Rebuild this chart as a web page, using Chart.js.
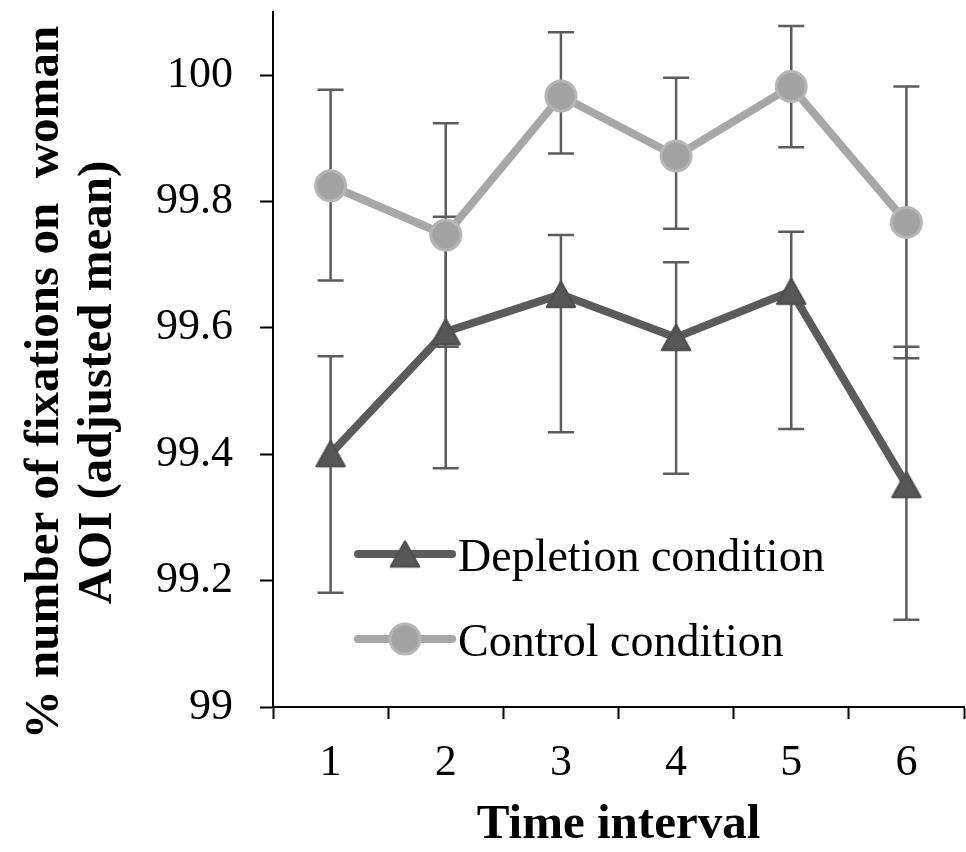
<!DOCTYPE html>
<html><head><meta charset="utf-8">
<script src="https://cdn.jsdelivr.net/npm/chart.js@4.4.0/dist/chart.umd.min.js"></script>
<style>html,body{margin:0;padding:0;background:#fff;}canvas{display:block;}</style>
</head><body>
<canvas id="c" width="966" height="852"></canvas>
<script>
const categories = ['1', '2', '3', '4', '5', '6'];
const depletionMean  = [99.401, 99.594, 99.653, 99.585, 99.658, 99.352];
const depletionUpper = [99.555, 99.776, 99.747, 99.704, 99.752, 99.570];
const depletionLower = [99.181, 99.378, 99.435, 99.369, 99.440, 99.138];
const controlMean  = [99.825, 99.747, 99.967, 99.872, 99.982, 99.767];
const controlUpper = [99.977, 99.924, 100.068, 99.996, 100.078, 99.982];
const controlLower = [99.675, 99.570, 99.876, 99.757, 99.886, 99.552];
const yTickValues = [99, 99.2, 99.4, 99.6, 99.8, 100];
const yTickLabels = ['99', '99.2', '99.4', '99.6', '99.8', '100'];
const seriesNames = ['Depletion condition', 'Control condition'];
const xTitle = 'Time interval';
const yTitle = ['% number of fixations on  woman', 'AOI (adjusted mean)'];

const SERIF = "'Liberation Serif', 'Times New Roman', serif";
const DEP_LINE = '#5b5b5b', DEP_MARK = '#575757';
const CON_LINE = '#a7a7a7', CON_FILL = '#a2a2a2', CON_BORDER = '#b6b6b6';
const ERR = '#5c5c5c';

function makeTriangle() {
  const c = document.createElement('canvas');
  c.width = 34; c.height = 33;
  const g = c.getContext('2d');
  g.beginPath();
  g.moveTo(17, 4); g.lineTo(31, 29); g.lineTo(3, 29); g.closePath();
  g.fillStyle = DEP_MARK; g.fill();
  g.lineJoin = 'round'; g.lineWidth = 2.5; g.strokeStyle = '#4f4f4f'; g.stroke();
  return c;
}
const tri = makeTriangle();

const errorSets = [
  {upper: depletionUpper, lower: depletionLower},
  {upper: controlUpper, lower: controlLower}
];

const errorBarPlugin = {
  id: 'errorBars',
  beforeDatasetsDraw(chart) {
    const {ctx, scales: {x, y}} = chart;
    ctx.save();
    ctx.strokeStyle = ERR; ctx.lineWidth = 2.5;
    errorSets.forEach(({upper, lower}) => {
      categories.forEach((c, i) => {
        const px = x.getPixelForValue(i);
        const yt = y.getPixelForValue(upper[i]);
        const yb = y.getPixelForValue(lower[i]);
        ctx.beginPath();
        ctx.moveTo(px, yt); ctx.lineTo(px, yb);
        ctx.moveTo(px - 13, yt); ctx.lineTo(px + 13, yt);
        ctx.moveTo(px - 13, yb); ctx.lineTo(px + 13, yb);
        ctx.stroke();
      });
    });
    ctx.restore();
  }
};

const yTitlePlugin = {
  id: 'yTitle',
  afterDraw(chart) {
    const {ctx, chartArea} = chart;
    const cy = (chartArea.top + chartArea.bottom) / 2 + 23;
    const xs = [45, 98];
    ctx.save();
    ctx.fillStyle = '#000';
    ctx.font = 'bold 49px ' + SERIF;
    ctx.textAlign = 'center';
    ctx.textBaseline = 'middle';
    yTitle.forEach((t, i) => {
      ctx.save();
      ctx.translate(xs[i], cy);
      ctx.rotate(-Math.PI / 2);
      ctx.fillText(t, 0, 0);
      ctx.restore();
    });
    ctx.restore();
  }
};

const legendPlugin = {
  id: 'innerLegend',
  afterDatasetsDraw(chart) {
    const {ctx, chartArea} = chart;
    const x0 = chartArea.left + 85, x1 = chartArea.left + 179, xm = (x0 + x1) / 2;
    const rows = [chartArea.top + 542, chartArea.top + 627];
    ctx.save();
    chart.data.datasets.forEach((ds, i) => {
      const yy = rows[i];
      ctx.beginPath();
      ctx.lineCap = 'round';
      ctx.lineWidth = 8;
      ctx.strokeStyle = ds.borderColor;
      ctx.moveTo(x0, yy); ctx.lineTo(x1, yy); ctx.stroke();
      if (i === 0) {
        ctx.drawImage(tri, xm - tri.width / 2, yy - tri.height / 2);
      } else {
        ctx.beginPath();
        ctx.arc(xm, yy, 15, 0, Math.PI * 2);
        ctx.fillStyle = CON_FILL; ctx.fill();
        ctx.lineWidth = 3; ctx.strokeStyle = CON_BORDER; ctx.stroke();
      }
      ctx.fillStyle = '#000';
      ctx.font = '46px ' + SERIF;
      ctx.textBaseline = 'alphabetic';
      ctx.textAlign = 'left';
      ctx.fillText(ds.label, x1 + 6, yy + 17);
    });
    ctx.restore();
  }
};

new Chart(document.getElementById('c'), {
  type: 'line',
  data: {
    labels: categories,
    datasets: [
      {
        label: seriesNames[0],
        data: depletionMean,
        borderColor: DEP_LINE,
        borderWidth: 8,
        borderJoinStyle: 'round',
        borderCapStyle: 'round',
        pointStyle: tri,
        pointRadius: 16,
        pointHoverRadius: 16,
        tension: 0,
        clip: false
      },
      {
        label: seriesNames[1],
        data: controlMean,
        borderColor: CON_LINE,
        borderWidth: 8,
        borderJoinStyle: 'round',
        borderCapStyle: 'round',
        pointStyle: 'circle',
        pointRadius: 15,
        pointHoverRadius: 15,
        pointBackgroundColor: CON_FILL,
        pointBorderColor: CON_BORDER,
        pointBorderWidth: 3,
        tension: 0,
        clip: false
      }
    ]
  },
  options: {
    responsive: false,
    animation: false,
    devicePixelRatio: 1,
    layout: {autoPadding: false, padding: {top: 12, right: 2, left: 0, bottom: 0}},
    plugins: {legend: {display: false}, tooltip: {enabled: false}},
    scales: {
      x: {
        type: 'category',
        offset: true,
        grid: {offset: true, drawOnChartArea: false, drawTicks: true, tickLength: 12, tickWidth: 2, tickColor: '#000'},
        border: {display: true, color: '#000', width: 2},
        ticks: {color: '#000', font: {family: SERIF, size: 44}, padding: 18, maxRotation: 0},
        title: {display: true, text: xTitle, color: '#000', font: {family: SERIF, size: 49, weight: 'bold', lineHeight: 1.08}, padding: {top: 0, bottom: 0}},
        afterFit(s) { s.height = 145; s.paddingLeft = 0; s.paddingRight = 0; }
      },
      y: {
        type: 'linear',
        min: 99,
        max: 100.1,
        afterBuildTicks(s) { s.ticks = yTickValues.map(v => ({value: v})); },
        grid: {drawOnChartArea: false, drawTicks: true, tickLength: 13, tickWidth: 2, tickColor: '#000'},
        border: {display: true, color: '#000', width: 2},
        ticks: {
          color: '#000', font: {family: SERIF, size: 44}, padding: 27,
          callback(v) { const k = yTickValues.findIndex(t => Math.abs(t - v) < 1e-6); return k >= 0 ? yTickLabels[k] : ''; }
        },
        title: {display: false},
        afterFit(s) { s.width = 273; s.paddingTop = 0; s.paddingBottom = 0; }
      }
    }
  },
  plugins: [errorBarPlugin, legendPlugin, yTitlePlugin]
});
</script>
</body></html>
